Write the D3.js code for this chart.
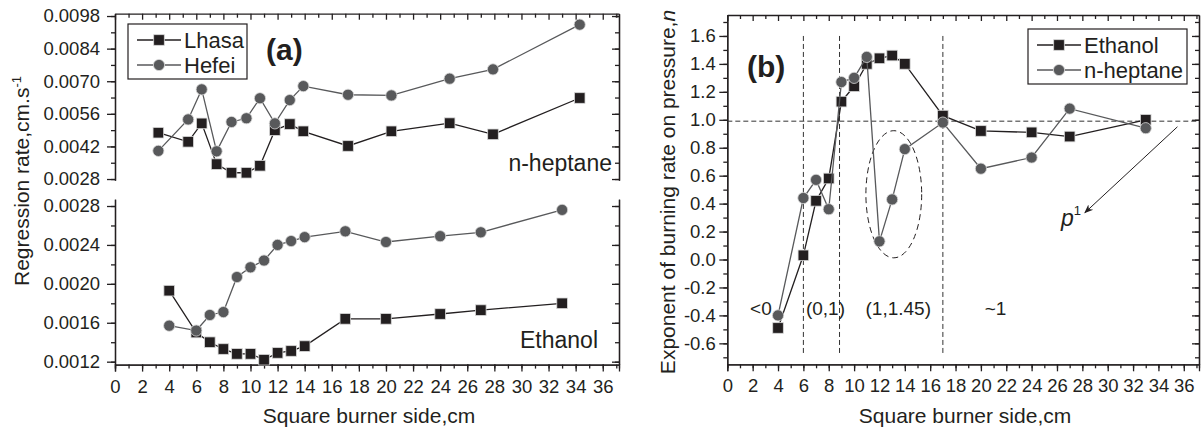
<!DOCTYPE html>
<html>
<head>
<meta charset="utf-8">
<script src="https://cdn.jsdelivr.net/npm/d3@7/dist/d3.min.js"></script>
<style>
  body { margin: 0; background: #fff; }
  svg { display: block; font-family: "Liberation Sans", Arial, sans-serif; }
  .axis path, .axis line { stroke: #231f20; stroke-width: 1.3; }
  .axis text { font-size: 18.5px; fill: #231f20; font-family: "Liberation Sans", Arial, sans-serif; }
</style>
</head>
<body>
<svg id="chart" width="1204" height="430"></svg>
<script>
// ---- panel (a): regression rate, n-heptane (top) and ethanol (bottom)
var sizeHept = [3.2, 5.4, 6.4, 7.5, 8.6, 9.7, 10.7, 11.8, 12.9, 13.9, 17.2, 20.4, 24.7, 27.9, 34.3];
var heptLhasa = [0.00479, 0.00440, 0.00519, 0.00344, 0.00307, 0.00307, 0.00337, 0.00490, 0.00516, 0.00485, 0.00422, 0.00485, 0.00520, 0.00472, 0.00628];
var heptHefei = [0.00401, 0.00536, 0.00665, 0.00399, 0.00525, 0.00541, 0.00627, 0.00519, 0.00619, 0.00679, 0.00642, 0.00639, 0.00711, 0.00751, 0.00943];

var sizeEth = [4, 6, 7, 8, 9, 10, 11, 12, 13, 14, 17, 20, 24, 27, 33];
var ethLhasa = [0.00193, 0.00150, 0.00140, 0.00133, 0.00128, 0.00128, 0.00122, 0.00129, 0.00131, 0.00136, 0.00164, 0.00164, 0.00169, 0.00173, 0.00180];
var ethHefei = [0.00157, 0.00152, 0.00168, 0.00171, 0.00207, 0.00217, 0.00224, 0.00240, 0.00244, 0.00248, 0.00254, 0.00243, 0.00249, 0.00253, 0.00276];

var seriesA = ["Lhasa", "Hefei"];
var topTicks = [0.0028, 0.0042, 0.0056, 0.0070, 0.0084, 0.0098];
var botTicks = [0.0012, 0.0016, 0.0020, 0.0024, 0.0028];

// ---- panel (b): pressure exponent n
var sizeB = [4, 6, 7, 8, 9, 10, 11, 12, 13, 14, 17, 20, 24, 27, 33];
var nEthanol = [-0.49, 0.03, 0.42, 0.58, 1.13, 1.24, 1.40, 1.44, 1.46, 1.40, 1.03, 0.92, 0.91, 0.88, 1.00];
var nHeptane = [-0.40, 0.44, 0.57, 0.36, 1.27, 1.30, 1.45, 0.13, 0.43, 0.79, 0.98, 0.65, 0.73, 1.08, 0.94];
var seriesB = ["Ethanol", "n-heptane"];
var bTicks = [-0.6, -0.4, -0.2, 0.0, 0.2, 0.4, 0.6, 0.8, 1.0, 1.2, 1.4, 1.6];
var regimeBounds = [6, 8.85, 17];
var regimeLabels = ["<0", "(0,1)", "(1,1.45)", "~1"];
var unityLine = 0.99;

var xTicks = d3.range(0, 37, 2);
var xMinor = d3.range(0, 38, 1);

var dark = "#231f20", grey = "#58595b";

var svg = d3.select("#chart");

/* scales */
var xA = d3.scaleLinear().domain([0, 37.2]).range([115, 619]);
var yTop = d3.scaleLinear().domain([0.00275, 0.0099]).range([180.2, 13.7]);
var yBot = d3.scaleLinear().domain([0.00117, 0.00287]).range([364.6, 199.2]);
var xB = d3.scaleLinear().domain([0, 37.2]).range([727.3, 1199]);
var yB = d3.scaleLinear().domain([-0.75, 1.75]).range([364.3, 15]);

function fmtDash(f) {
    return function (d) { return f(d).replace("\u2212", "-"); };
}

function bottomAxis(x, y0) {
    svg.append("g").attr("class", "axis")
        .attr("transform", "translate(0," + y0 + ")")
        .call(d3.axisBottom(x).tickValues(xMinor).tickSize(4).tickFormat(""));
    svg.append("g").attr("class", "axis")
        .attr("transform", "translate(0," + y0 + ")")
        .call(d3.axisBottom(x).tickValues(xTicks).tickSize(7).tickPadding(8).tickFormat(d3.format("d")));
}

function topFrame(x, y0) {
    var g = svg.append("g").attr("class", "axis")
        .attr("transform", "translate(0," + y0 + ")")
        .call(d3.axisTop(x).tickValues(xMinor).tickSizeInner(-4).tickSizeOuter(0).tickFormat(""));
    g.selectAll(".tick line").filter(function (d) { return d % 2 === 0; }).attr("y2", 6);
}

function leftAxis(x0, y, major, minor, fmt, pad) {
    svg.append("g").attr("class", "axis")
        .attr("transform", "translate(" + x0 + ",0)")
        .call(d3.axisLeft(y).tickValues(minor).tickSize(4).tickSizeOuter(0).tickFormat(""));
    svg.append("g").attr("class", "axis")
        .attr("transform", "translate(" + x0 + ",0)")
        .call(d3.axisLeft(y).tickValues(major).tickSize(8).tickSizeOuter(0).tickPadding(pad).tickFormat(fmt));
}

function rightFrame(x1, y, major, minor) {
    svg.append("g").attr("class", "axis")
        .attr("transform", "translate(" + x1 + ",0)")
        .call(d3.axisRight(y).tickValues(minor).tickSizeInner(-4).tickSizeOuter(0).tickFormat(""));
    svg.append("g").attr("class", "axis")
        .attr("transform", "translate(" + x1 + ",0)")
        .call(d3.axisRight(y).tickValues(major).tickSizeInner(-7).tickSizeOuter(0).tickFormat(""));
}

function drawSeries(x, y, xs, ys, color, shape) {
    var pts = xs.map(function (d, i) { return [x(d), y(ys[i])]; });
    svg.append("path")
        .attr("d", d3.line()(pts))
        .attr("fill", "none")
        .attr("stroke", color)
        .attr("stroke-width", 1.3);
    drawMarkers(pts, color, shape);
}

function drawMarkers(pts, color, shape) {
    if (shape === "square") {
        svg.append("g").selectAll("rect").data(pts).enter().append("rect")
            .attr("x", function (d) { return d[0] - 5.3; })
            .attr("y", function (d) { return d[1] - 5.3; })
            .attr("width", 10.6).attr("height", 10.6)
            .attr("fill", color).attr("stroke", "#d8d8d8").attr("stroke-width", 0.8);
    } else {
        svg.append("g").selectAll("circle").data(pts).enter().append("circle")
            .attr("cx", function (d) { return d[0]; })
            .attr("cy", function (d) { return d[1]; })
            .attr("r", 5.6)
            .attr("fill", color).attr("stroke", "#d8d8d8").attr("stroke-width", 0.8);
    }
}

function legend(x0, y0, w, h, names) {
    svg.append("rect").attr("x", x0).attr("y", y0).attr("width", w).attr("height", h)
        .attr("fill", "#fff").attr("stroke", dark).attr("stroke-width", 1.2);
    var shapes = ["square", "circle"], cols = [dark, grey];
    names.forEach(function (n, i) {
        var cy = y0 + 16 + i * 25;
        svg.append("line").attr("x1", x0 + 9).attr("x2", x0 + 53)
            .attr("y1", cy).attr("y2", cy)
            .attr("stroke", cols[i]).attr("stroke-width", 1.3);
        drawMarkers([[x0 + 31, cy]], cols[i], shapes[i]);
        svg.append("text").attr("x", x0 + 56).attr("y", cy + 8)
            .attr("font-size", 22).attr("fill", dark).text(n);
    });
}

/* ================= panel (a) ================= */
bottomAxis(xA, 364.6);
topFrame(xA, 13.7);
leftAxis(115, yTop, topTicks, d3.range(0.0028, 0.0099, 0.0007), d3.format(".4f"), 7);
leftAxis(115, yBot, botTicks, d3.range(0.0012, 0.00285, 0.0002), d3.format(".4f"), 7);
rightFrame(619, yTop, topTicks, d3.range(0.0028, 0.0099, 0.0007));
rightFrame(619, yBot, botTicks, d3.range(0.0012, 0.00285, 0.0002));

drawSeries(xA, yTop, sizeHept, heptLhasa, dark, "square");
drawSeries(xA, yTop, sizeHept, heptHefei, grey, "circle");
drawSeries(xA, yBot, sizeEth, ethLhasa, dark, "square");
drawSeries(xA, yBot, sizeEth, ethHefei, grey, "circle");

legend(128, 24, 119, 55, seriesA);

svg.append("text").attr("x", 266).attr("y", 60)
    .attr("font-size", 30).attr("font-weight", "bold").attr("fill", dark).text("(a)");
svg.append("text").attr("x", 612).attr("y", 171).attr("text-anchor", "end")
    .attr("font-size", 23).attr("fill", dark).text("n-heptane");
svg.append("text").attr("x", 598).attr("y", 348).attr("text-anchor", "end")
    .attr("font-size", 23).attr("fill", dark).text("Ethanol");

svg.append("text").attr("x", 369).attr("y", 423).attr("text-anchor", "middle")
    .attr("font-size", 21).attr("fill", dark).text("Square burner side,cm");

var ytA = svg.append("text")
    .attr("transform", "translate(29,181) rotate(-90)")
    .attr("text-anchor", "middle")
    .attr("font-size", 21).attr("fill", dark);
ytA.append("tspan").text("Regression rate,cm.s");
ytA.append("tspan").attr("dy", -8).attr("font-size", 13).text("-1");

/* ================= panel (b) ================= */
bottomAxis(xB, 364.3);
topFrame(xB, 15);
leftAxis(727.3, yB, bTicks, d3.range(-0.7, 1.75, 0.1), fmtDash(d3.format(".1f")), 3.5);
rightFrame(1199, yB, bTicks, d3.range(-0.7, 1.75, 0.1));

// reference lines
svg.append("line")
    .attr("x1", xB(0)).attr("x2", xB(37.2))
    .attr("y1", yB(unityLine)).attr("y2", yB(unityLine))
    .attr("stroke", "#333").attr("stroke-width", 1).attr("stroke-dasharray", "5,3");
regimeBounds.forEach(function (b) {
    svg.append("line")
        .attr("x1", xB(b)).attr("x2", xB(b))
        .attr("y1", yB(1.6)).attr("y2", yB(-0.68))
        .attr("stroke", "#333").attr("stroke-width", 1).attr("stroke-dasharray", "5,3");
});

// dashed ellipse round the n-heptane dip
svg.append("ellipse")
    .attr("cx", xB(13.13)).attr("cy", yB(0.467))
    .attr("rx", xB(13.13 + 2.2) - xB(13.13))
    .attr("ry", yB(0.467 - 0.455) - yB(0.467))
    .attr("fill", "none").attr("stroke", dark).attr("stroke-width", 1).attr("stroke-dasharray", "6,4");

drawSeries(xB, yB, sizeB, nEthanol, dark, "square");
drawSeries(xB, yB, sizeB, nHeptane, grey, "circle");

legend(1028, 29, 159, 55, seriesB);

svg.append("text").attr("x", 747).attr("y", 77)
    .attr("font-size", 30).attr("font-weight", "bold").attr("fill", dark).text("(b)");

var labelX = [1.8, 6.2, 10.9, 20.3];
regimeLabels.forEach(function (t, i) {
    svg.append("text").attr("x", xB(labelX[i])).attr("y", yB(-0.4))
        .attr("font-size", 19).attr("fill", dark)
        .text(t);
});

// p^1 arrow
svg.append("defs").append("marker")
    .attr("id", "arr").attr("viewBox", "0 0 10 10").attr("refX", 9).attr("refY", 5)
    .attr("markerWidth", 9).attr("markerHeight", 9).attr("orient", "auto")
    .append("path").attr("d", "M0,1 L10,5 L0,9 L3,5 Z").attr("fill", dark);
svg.append("line")
    .attr("x1", xB(35.5)).attr("y1", yB(0.95))
    .attr("x2", xB(28.2)).attr("y2", yB(0.335))
    .attr("stroke", dark).attr("stroke-width", 1).attr("marker-end", "url(#arr)");
var pl = svg.append("text").attr("x", 1061).attr("y", 226).attr("fill", dark);
pl.append("tspan").attr("font-size", 23).attr("font-style", "italic").text("p");
pl.append("tspan").attr("dy", -11).attr("font-size", 13).text("1");

svg.append("text").attr("x", 965).attr("y", 423).attr("text-anchor", "middle")
    .attr("font-size", 21).attr("fill", dark).text("Square burner side,cm");

var ytB = svg.append("text")
    .attr("transform", "translate(675,192) rotate(-90)")
    .attr("text-anchor", "middle")
    .attr("font-size", 21).attr("fill", dark);
ytB.append("tspan").text("Exponent of burning rate on pressure,");
ytB.append("tspan").attr("font-style", "italic").text("n");
</script>
</body>
</html>
